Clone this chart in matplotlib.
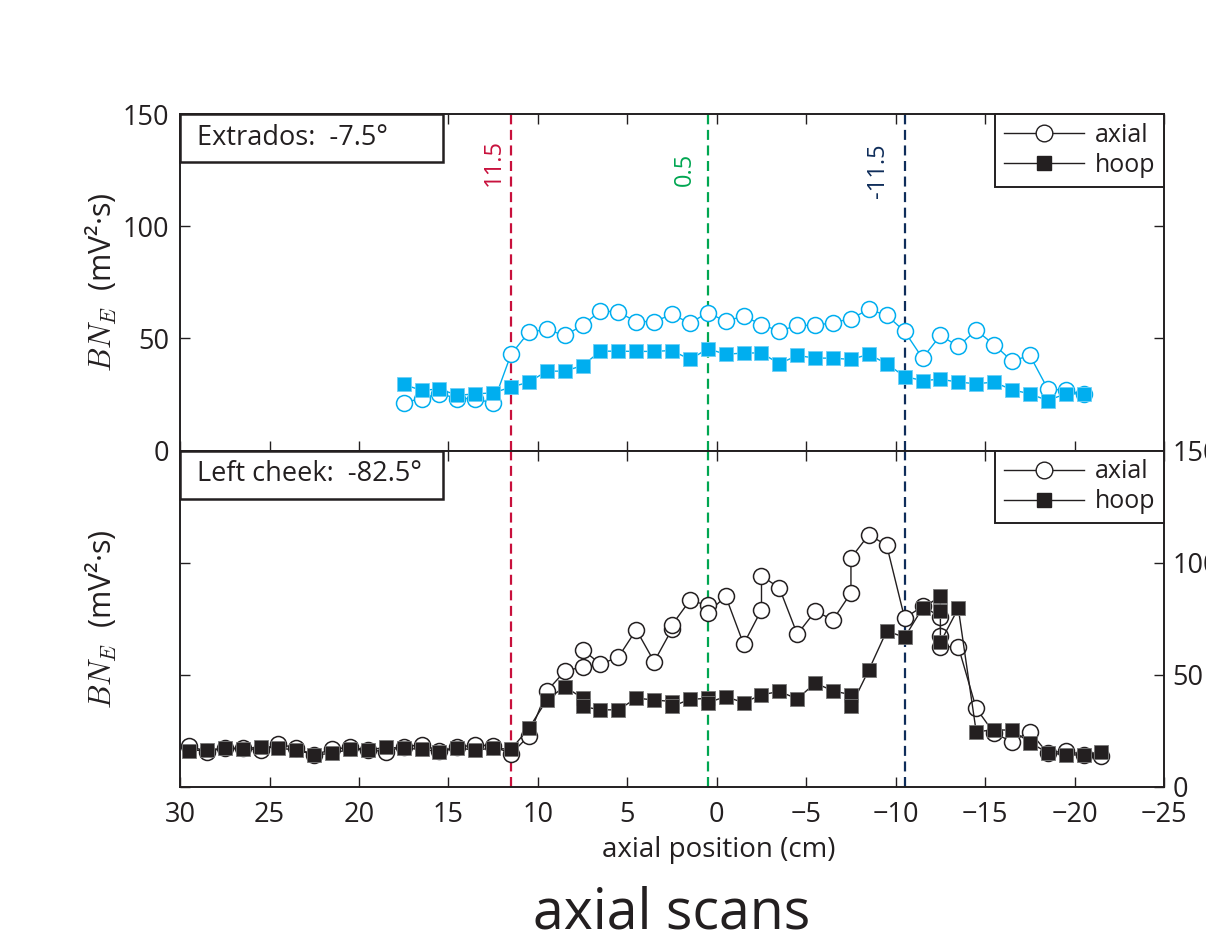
import matplotlib
matplotlib.use('Agg')
import matplotlib.pyplot as plt
from matplotlib.lines import Line2D
from matplotlib.patches import Rectangle

plt.rcParams['font.family'] = ['Open Sans', 'DejaVu Sans']
plt.rcParams['mathtext.fontset'] = 'cm'

ink = '#231f20'
blue = '#00aeef'

# top panel: extrados -7.5 deg
top_x = [17.5, 16.5, 15.5, 14.5, 13.5, 12.5, 11.5, 10.5, 9.5, 8.5, 7.5, 6.5, 5.5, 4.5, 3.5,
         2.5, 1.5, 0.5, -0.5, -1.5, -2.5, -3.5, -4.5, -5.5, -6.5, -7.5, -8.5, -9.5, -10.5,
         -11.5, -12.5, -13.5, -14.5, -15.5, -16.5, -17.5, -18.5, -19.5, -20.5]
top_axial = [21.4, 23.2, 25.4, 23.2, 23.2, 21.0, 42.9, 52.8, 54.0, 51.3, 55.8, 62.3, 61.7, 57.5,
             57.5, 60.7, 56.8, 61.5, 57.6, 60.0, 56.1, 53.3, 55.8, 55.8, 57.0, 58.8, 62.9, 60.3,
             53.1, 41.2, 51.3, 46.5, 53.6, 47.2, 39.9, 42.4, 27.5, 26.8, 25.3]
top_hoop = [29.5, 26.8, 27.5, 24.6, 25.3, 25.7, 28.3, 30.5, 35.4, 35.4, 37.9, 44.3, 44.3, 44.2,
            44.2, 44.6, 40.6, 45.4, 42.9, 43.5, 43.5, 38.7, 42.4, 41.2, 41.2, 40.6, 42.9, 38.7,
            33.0, 31.2, 31.8, 30.5, 29.8, 30.5, 27.1, 25.3, 22.3, 25.3, 25.3]

# bottom panel: left cheek -82.5 deg (some positions measured twice)
bot_axial_x = [29.5, 28.5, 27.5, 26.5, 25.5, 24.5, 23.5, 22.5, 21.5, 20.5, 19.5, 18.5, 17.5,
               16.5, 15.5, 14.5, 13.5, 12.5, 11.5, 10.5, 9.5, 8.5, 7.5, 7.5, 6.5, 5.5, 4.5,
               3.5, 2.5, 2.5, 1.5, 0.5, 0.5, -0.5, -1.5, -2.5, -2.5, -3.5, -4.5, -5.5, -6.5,
               -7.5, -7.5, -8.5, -9.5, -10.5, -11.5, -12.5, -12.5, -12.5, -13.5, -14.5,
               -15.5, -16.5, -17.5, -18.5, -19.5, -20.5, -21.5]
bot_axial = [18.3, 15.8, 17.3, 17.3, 16.5, 19.2, 17.3, 14.3, 16.8, 17.7, 16.5, 15.8, 18.0,
             18.8, 16.2, 17.7, 18.8, 18.3, 14.8, 22.8, 42.8, 51.5, 53.7, 61.2, 54.8, 57.9, 70.1,
             55.9, 70.4, 72.3, 83.2, 81.0, 77.7, 85.0, 63.7, 79.0, 94.2, 88.7, 68.1, 78.3, 74.6,
             86.5, 102.1, 112.5, 107.7, 75.3, 80.5, 76.0, 67.1, 62.4, 62.6, 35.1,
             24.0, 20.2, 24.7, 15.0, 16.2, 14.3, 13.8]
bot_hoop_x = [29.5, 28.5, 27.5, 26.5, 25.5, 24.5, 23.5, 22.5, 21.5, 20.5, 19.5, 18.5, 17.5,
              16.5, 15.5, 14.5, 13.5, 12.5, 11.5, 10.5, 9.5, 8.5, 7.5, 7.5, 6.5, 5.5, 4.5,
              3.5, 2.5, 2.5, 1.5, 0.5, 0.5, -0.5, -1.5, -2.5, -3.5, -4.5, -5.5, -6.5,
              -7.5, -7.5, -8.5, -9.5, -10.5, -11.5, -12.5, -12.5, -12.5, -13.5, -14.5,
              -15.5, -16.5, -17.5, -18.5, -19.5, -20.5, -21.5]
bot_hoop = [16.2, 16.5, 17.3, 16.8, 18.0, 17.3, 16.5, 14.3, 15.0, 16.8, 16.5, 17.7, 17.3,
            16.8, 15.8, 17.3, 16.5, 17.3, 16.8, 26.2, 38.8, 44.8, 39.6, 35.9, 34.4, 34.4, 39.6,
            38.8, 38.1, 35.9, 39.1, 39.5, 37.6, 40.3, 37.6, 41.1, 42.6, 39.3, 46.3, 42.9,
            41.1, 35.9, 52.2, 69.6, 66.7, 79.8, 85.0, 78.3, 64.5, 79.7, 24.7,
            25.4, 25.4, 19.8, 15.3, 14.3, 14.3, 15.8]

# marked positions (line drawn, label shown)
mark_x = [11.5, 0.5, -10.5]
mark_text = ['11.5', '0.5', '-11.5']
mark_colors = ['#c8103c', '#00a651', '#0f2d5a']
mark_label_x = [11.8, 1.1, -9.7]
mark_label_y = [118, 118, 112.5]

xticks = [30, 25, 20, 15, 10, 5, 0, -5, -10, -15, -20, -25]
yticks = [0, 50, 100, 150]

fig = plt.figure(figsize=(12.06, 9.34), dpi=100)
ax1 = fig.add_axes([0.1493, 0.5176, 0.8159, 0.3603])
ax2 = fig.add_axes([0.1493, 0.1574, 0.8159, 0.3602])

ax1.plot(top_x, top_axial, color=blue, lw=1, marker='o', ms=11.5, mfc='w', mec=blue, mew=1.1)
ax1.plot(top_x, top_hoop, color=blue, lw=1, marker='s', ms=10, mfc=blue, mec='#6fd0f5', mew=0.6)

ax2.plot(bot_axial_x, bot_axial, color=ink, lw=1, marker='o', ms=11.5, mfc='w', mec=ink, mew=1.1)
ax2.plot(bot_hoop_x, bot_hoop, color=ink, lw=1, marker='s', ms=10, mfc=ink, mec='#777777', mew=0.6)

for ax in (ax1, ax2):
    ax.set_xlim(30, -25)
    ax.set_ylim(0, 150)
    ax.set_xticks(xticks)
    ax.set_yticks(yticks)
    ax.tick_params(direction='in', length=7, width=1, top=True, right=True,
                   labelsize=19.5, colors=ink, pad=10)
    ax.tick_params(axis='y', pad=8)
    for s in ax.spines.values():
        s.set_linewidth(1.4)
        s.set_color(ink)
    for xv, c in zip(mark_x, mark_colors):
        ax.axvline(xv, color=c, lw=1.6, ls=(0, (4.5, 2.5)), zorder=1)
    ax.set_ylabel(r'$BN_E$  (mV²·s)', fontsize=22, color=ink)
    ax.yaxis.set_label_coords(-0.062, 0.5)

    handles = [Line2D([], [], color=ink, lw=1, marker='o', ms=12, mfc='w', mec=ink),
               Line2D([], [], color=ink, lw=1, marker='s', ms=10.5, mfc=ink, mec=ink)]
    leg = ax.legend(handles, ['axial', 'hoop'], loc='upper right', borderaxespad=0,
                    fancybox=False, framealpha=1, edgecolor=ink, fontsize=18,
                    handlelength=3.2, handletextpad=0.45, labelspacing=0.2, borderpad=0.35)
    leg.get_frame().set_linewidth(1.4)
    for t in leg.get_texts():
        t.set_color(ink)

ax1.tick_params(labelbottom=False)
ax2.tick_params(labelleft=False, labelright=True)
ax2.tick_params(axis='y', pad=6)

for xv, txt, c, ly in zip(mark_label_x, mark_text, mark_colors, mark_label_y):
    ax1.text(xv, ly, txt, rotation=90, ha='right', va='bottom', color=c, fontsize=17)

# panel name boxes
for ax, name in ((ax1, 'Extrados:  -7.5°'), (ax2, 'Left cheek:  -82.5°')):
    ax.add_patch(Rectangle((0, 0.857), 0.267, 0.143, transform=ax.transAxes, fill=True,
                           facecolor='w', edgecolor=ink, lw=1.8, zorder=5, clip_on=False))
    ax.text(0.017, 0.929, name, transform=ax.transAxes, ha='left', va='center',
            fontsize=19.5, color=ink, zorder=6)

ax2.set_xlabel('axial position (cm)', fontsize=20, color=ink)
ax2.xaxis.set_label_coords(0.547, -0.145)

fig.text(0.557, 0.0064, 'axial scans', ha='center', va='baseline', fontsize=40, color=ink)

fig.savefig('out.png', dpi=100)
